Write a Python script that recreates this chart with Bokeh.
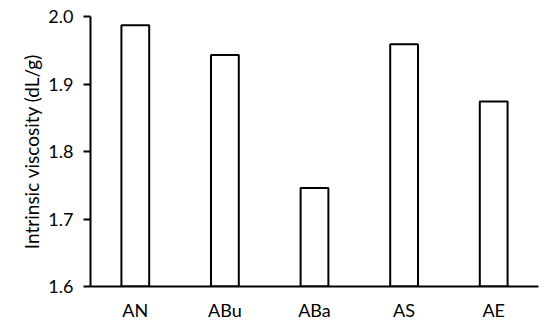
from bokeh.plotting import figure
from bokeh.models import FactorRange, Range1d, ColumnDataSource, CustomJSTickFormatter
from bokeh.embed import file_html
from bokeh.resources import INLINE

categories = ["AN", "ABu", "ABa", "AS", "AE"]
viscosity = [1.987, 1.943, 1.746, 1.959, 1.874]
y_ticks = [1.6, 1.7, 1.8, 1.9, 2.0]

src = ColumnDataSource(dict(cat=categories, top=viscosity))

p = figure(width=542, height=323, output_backend="svg", toolbar_location=None,
           x_range=FactorRange(*categories), y_range=Range1d(1.6, 2.0),
           min_border_left=90, min_border_right=4, min_border_top=16, min_border_bottom=37)
p.vbar(x="cat", top="top", bottom=1.6, width=0.31, source=src,
       fill_color="white", line_color="black", line_width=2)

p.outline_line_color = None
p.grid.grid_line_color = None
p.background_fill_color = "white"

FONT = "Lato"
p.yaxis.ticker = y_ticks
p.yaxis.formatter = CustomJSTickFormatter(code="return tick.toFixed(1);")
p.yaxis.axis_line_width = 2
p.yaxis.axis_line_color = "black"
p.yaxis.major_tick_line_width = 2
p.yaxis.major_tick_line_color = "black"
p.yaxis.major_tick_out = 7
p.yaxis.major_tick_in = 0
p.yaxis.minor_tick_line_color = None
p.yaxis.major_label_text_font = FONT
p.yaxis.major_label_text_font_size = "18px"
p.yaxis.major_label_text_color = "black"
p.yaxis.major_label_standoff = 10
p.yaxis.axis_label = "Intrinsic viscosity (dL/g)"
p.yaxis.axis_label_text_font = FONT
p.yaxis.axis_label_text_font_size = "19px"
p.yaxis.axis_label_text_font_style = "normal"
p.yaxis.axis_label_text_color = "black"
p.yaxis.axis_label_standoff = 2

p.xaxis.axis_line_width = 2
p.xaxis.axis_line_color = "black"
p.xaxis.major_tick_line_color = None
p.xaxis.minor_tick_line_color = None
p.xaxis.major_label_text_font = FONT
p.xaxis.major_label_text_font_size = "18px"
p.xaxis.major_label_text_color = "black"
p.xaxis.major_label_standoff = 6

open("out.html", "w").write(file_html(p, INLINE))
